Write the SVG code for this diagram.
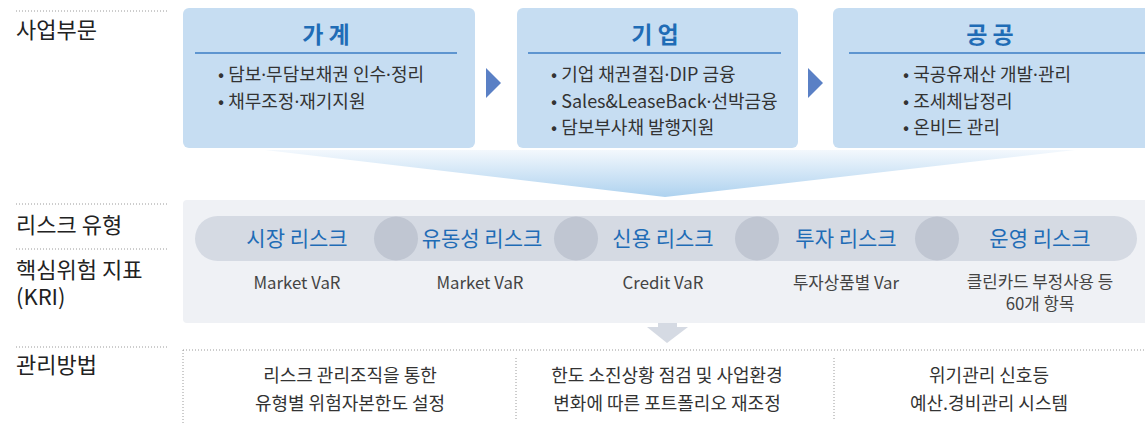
<svg xmlns="http://www.w3.org/2000/svg" width="1145" height="425" viewBox="0 0 1145 425">
<defs>
<linearGradient id="fun" x1="0" y1="0" x2="0" y2="1">
<stop offset="0" stop-color="#f3f8fd"/>
<stop offset="1" stop-color="#aed2ef"/>
</linearGradient>
<style>
text{font-family:"Noto Sans CJK KR","Noto Sans",sans-serif;}
.lbl{font-size:22px;fill:#222;}
.dot{stroke:#9a9a9a;stroke-width:1;stroke-dasharray:1 2;fill:none;}
.box{fill:#c6ddf2;}
.hd{font-size:23px;font-weight:700;fill:#1f6cb6;text-anchor:middle;}
.hl{stroke:#3b7dc4;stroke-width:1.5;}
.bl{font-size:18px;fill:#333;}
.md{font-family:"Noto Sans",sans-serif;}
.tri{fill:#5a80c5;}
.risk{font-size:21px;fill:#1f6cb6;text-anchor:middle;}
.kri{font-size:16.8px;fill:#444;text-anchor:middle;}
.mg{font-size:18px;fill:#333;text-anchor:middle;}
.cir{fill:#c0c6d2;}
</style>
</defs>
<rect width="1145" height="425" fill="#ffffff"/>

<g id="labels">
<line class="dot" x1="16" y1="11" x2="168" y2="11"/>
<text class="lbl" x="16" y="38">사업부문</text>
<line class="dot" x1="16" y1="204" x2="168" y2="204"/>
<text class="lbl" x="16" y="233">리스크 유형</text>
<line class="dot" x1="16" y1="249" x2="168" y2="249"/>
<text class="lbl" x="16" y="278">핵심위험 지표<tspan x="16" dy="27">(KRI)</tspan></text>
<line class="dot" x1="16" y1="347" x2="168" y2="347"/>
<text class="lbl" x="16" y="373">관리방법</text>
</g>

<g id="funnel">
<polygon points="265,150 1075,150 665,197" fill="url(#fun)"/>
</g>

<g id="node-household">
<rect class="box" x="183" y="8" width="292" height="140" rx="6"/>
<text class="hd" x="326" y="43">가 계</text>
<line class="hl" x1="195" y1="53" x2="457" y2="53"/>
<text class="bl" x="218" y="81">• 담보<tspan class="md">·</tspan>무담보채권 인수<tspan class="md">·</tspan>정리</text>
<text class="bl" x="218" y="108">• 채무조정<tspan class="md">·</tspan>재기지원</text>
</g>

<g id="node-corporate">
<rect class="box" x="517" y="8" width="281" height="140" rx="6"/>
<text class="hd" x="655" y="43">기 업</text>
<line class="hl" x1="528" y1="53" x2="781" y2="53"/>
<text class="bl" x="551" y="81">• 기업 채권결집<tspan class="md">·</tspan>DIP 금융</text>
<text class="bl" x="551" y="108">• Sales&amp;LeaseBack<tspan class="md">·</tspan>선박금융</text>
<text class="bl" x="551" y="134">• 담보부사채 발행지원</text>
</g>

<g id="node-public">
<rect class="box" x="833" y="8" width="330" height="140" rx="6"/>
<text class="hd" x="990" y="43">공 공</text>
<line class="hl" x1="849" y1="53" x2="1145" y2="53"/>
<text class="bl" x="903" y="81">• 국공유재산 개발<tspan class="md">·</tspan>관리</text>
<text class="bl" x="903" y="108">• 조세체납정리</text>
<text class="bl" x="903" y="134">• 온비드 관리</text>
</g>

<g id="connectors">
<polygon class="tri" points="486,68 501,83 486,98"/>
<polygon class="tri" points="808,68 823,83 808,98"/>
<polygon points="658,318 677,318 677,327 688,327 667,343 647,327 658,327" fill="#d5dae3"/>
</g>

<g id="node-risk">
<rect x="183" y="200" width="970" height="123" rx="4" fill="#eff1f5"/>
<rect x="195" y="216" width="942" height="45" rx="22.5" fill="#d5dae3"/>
<circle class="cir" cx="396" cy="238.5" r="22"/>
<circle class="cir" cx="576" cy="238.5" r="22"/>
<circle class="cir" cx="757" cy="238.5" r="22"/>
<circle class="cir" cx="937" cy="238.5" r="22"/>
<text class="risk" x="297" y="246">시장 리스크</text>
<text class="risk" x="482" y="246">유동성 리스크</text>
<text class="risk" x="663" y="246">신용 리스크</text>
<text class="risk" x="846" y="246">투자 리스크</text>
<text class="risk" x="1040" y="246">운영 리스크</text>
<text class="kri" x="297" y="289">Market VaR</text>
<text class="kri" x="480" y="289">Market VaR</text>
<text class="kri" x="663" y="289">Credit VaR</text>
<text class="kri" x="846" y="289">투자상품별 Var</text>
<text class="kri" x="1040" y="288">클린카드 부정사용 등<tspan x="1040" dy="22">60개 항목</tspan></text>
</g>

<g id="node-management">
<line class="dot" x1="183" y1="350" x2="1145" y2="350"/>
<line class="dot" x1="183" y1="350" x2="183" y2="425"/>
<line class="dot" x1="516" y1="358" x2="516" y2="420"/>
<line class="dot" x1="834" y1="358" x2="834" y2="420"/>
<text class="mg" x="350" y="382">리스크 관리조직을 통한</text>
<text class="mg" x="350" y="410">유형별 위험자본한도 설정</text>
<text class="mg" x="667" y="382">한도 소진상황 점검 및 사업환경</text>
<text class="mg" x="667" y="410">변화에 따른 포트폴리오 재조정</text>
<text class="mg" x="989" y="382">위기관리 신호등</text>
<text class="mg" x="989" y="410">예산.경비관리 시스템</text>
</g>
</svg>
